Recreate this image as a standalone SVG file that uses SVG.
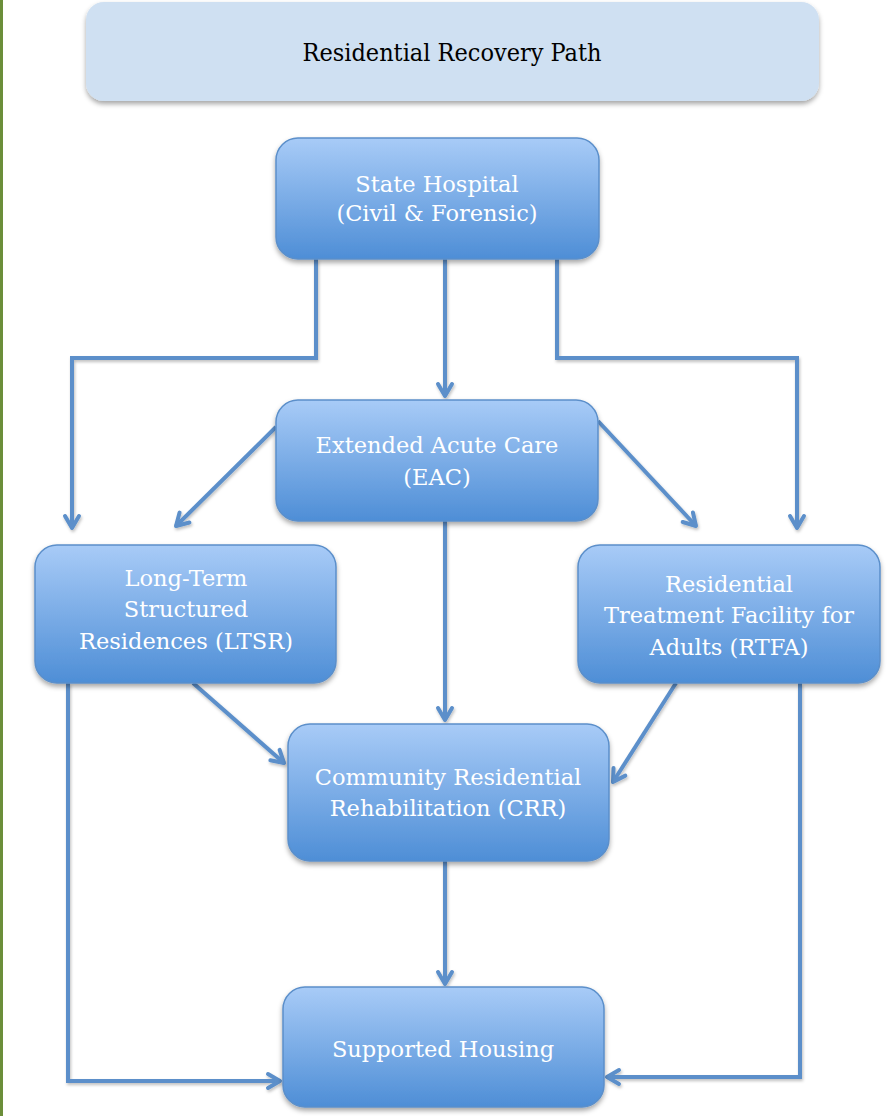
<svg xmlns="http://www.w3.org/2000/svg" width="891" height="1116" viewBox="0 0 891 1116">
<defs>
<linearGradient id="boxGrad" x1="0" y1="0" x2="0" y2="1">
<stop offset="0" stop-color="#a8cbf7"/>
<stop offset="1" stop-color="#4e8ed6"/>
</linearGradient>
<filter id="shadow" x="-10%" y="-10%" width="120%" height="130%">
<feDropShadow dx="0" dy="3" stdDeviation="2.5" flood-color="#000" flood-opacity="0.35"/>
</filter>
<filter id="lshadow" x="-10%" y="-10%" width="120%" height="120%">
<feDropShadow dx="1" dy="2" stdDeviation="1.5" flood-color="#000" flood-opacity="0.25"/>
</filter>
<marker id="arrow" viewBox="0 0 20 20" refX="16" refY="10" markerWidth="20" markerHeight="20" markerUnits="userSpaceOnUse" orient="auto">
<path d="M4,3 L16,10 L4,17" fill="none" stroke="#5b8fca" stroke-width="4" stroke-linecap="round" stroke-linejoin="round"/>
</marker>
</defs>
<style>
.box{fill:url(#boxGrad);stroke:#5b8fca;stroke-width:1.5;filter:url(#shadow)}
.lbl{font-family:"DejaVu Serif","Liberation Serif",serif;font-size:22.5px;fill:#ffffff;text-anchor:middle}
.conn{fill:none;stroke:#5b8fca;stroke-width:4;stroke-linejoin:miter;marker-end:url(#arrow)}
</style>
<rect x="0" y="0" width="3" height="1116" fill="#6b8e3a"/>

<g id="title">
<rect x="86" y="2" width="733" height="99" rx="18" fill="#cfe0f2" filter="url(#shadow)"/>
<text x="452" y="61" font-family="DejaVu Serif Condensed, DejaVu Serif, serif" font-size="25" fill="#000" text-anchor="middle">Residential Recovery Path</text>
</g>

<g id="connectors" filter="url(#lshadow)">
<path class="conn" d="M316,259 V358 H72 V528"/>
<path class="conn" d="M445,259 V396"/>
<path class="conn" d="M557,259 V358 H797 V528"/>
<path class="conn" d="M276,427 L176,526"/>
<path class="conn" d="M598,421 L696,526"/>
<path class="conn" d="M445,521 V720"/>
<path class="conn" d="M193,683 L284,763"/>
<path class="conn" d="M676,683 L613,782"/>
<path class="conn" d="M445,861 V984"/>
<path class="conn" d="M68,683 V1081 H280"/>
<path class="conn" d="M800,683 V1077 H607"/>
</g>

<g id="state-hospital">
<rect class="box" x="276" y="138" width="323" height="121" rx="22"/>
<text class="lbl" x="437" y="192">State Hospital</text>
<text class="lbl" x="437" y="221">(Civil &amp; Forensic)</text>
</g>

<g id="eac">
<rect class="box" x="276" y="400" width="322" height="121" rx="22"/>
<text class="lbl" x="437" y="453">Extended Acute Care</text>
<text class="lbl" x="437" y="485">(EAC)</text>
</g>

<g id="ltsr">
<rect class="box" x="35" y="545" width="301" height="138" rx="22"/>
<text class="lbl" x="186" y="586">Long-Term</text>
<text class="lbl" x="186" y="617">Structured</text>
<text class="lbl" x="186" y="649">Residences (LTSR)</text>
</g>

<g id="rtfa">
<rect class="box" x="578" y="545" width="302" height="138" rx="22"/>
<text class="lbl" x="729" y="592">Residential</text>
<text class="lbl" x="729" y="623">Treatment Facility for</text>
<text class="lbl" x="729" y="655">Adults (RTFA)</text>
</g>

<g id="crr">
<rect class="box" x="288" y="724" width="321" height="137" rx="22"/>
<text class="lbl" x="448" y="785">Community Residential</text>
<text class="lbl" x="448" y="816">Rehabilitation (CRR)</text>
</g>

<g id="supported-housing">
<rect class="box" x="283" y="987" width="321" height="120" rx="22"/>
<text class="lbl" x="443" y="1057">Supported Housing</text>
</g>
</svg>
